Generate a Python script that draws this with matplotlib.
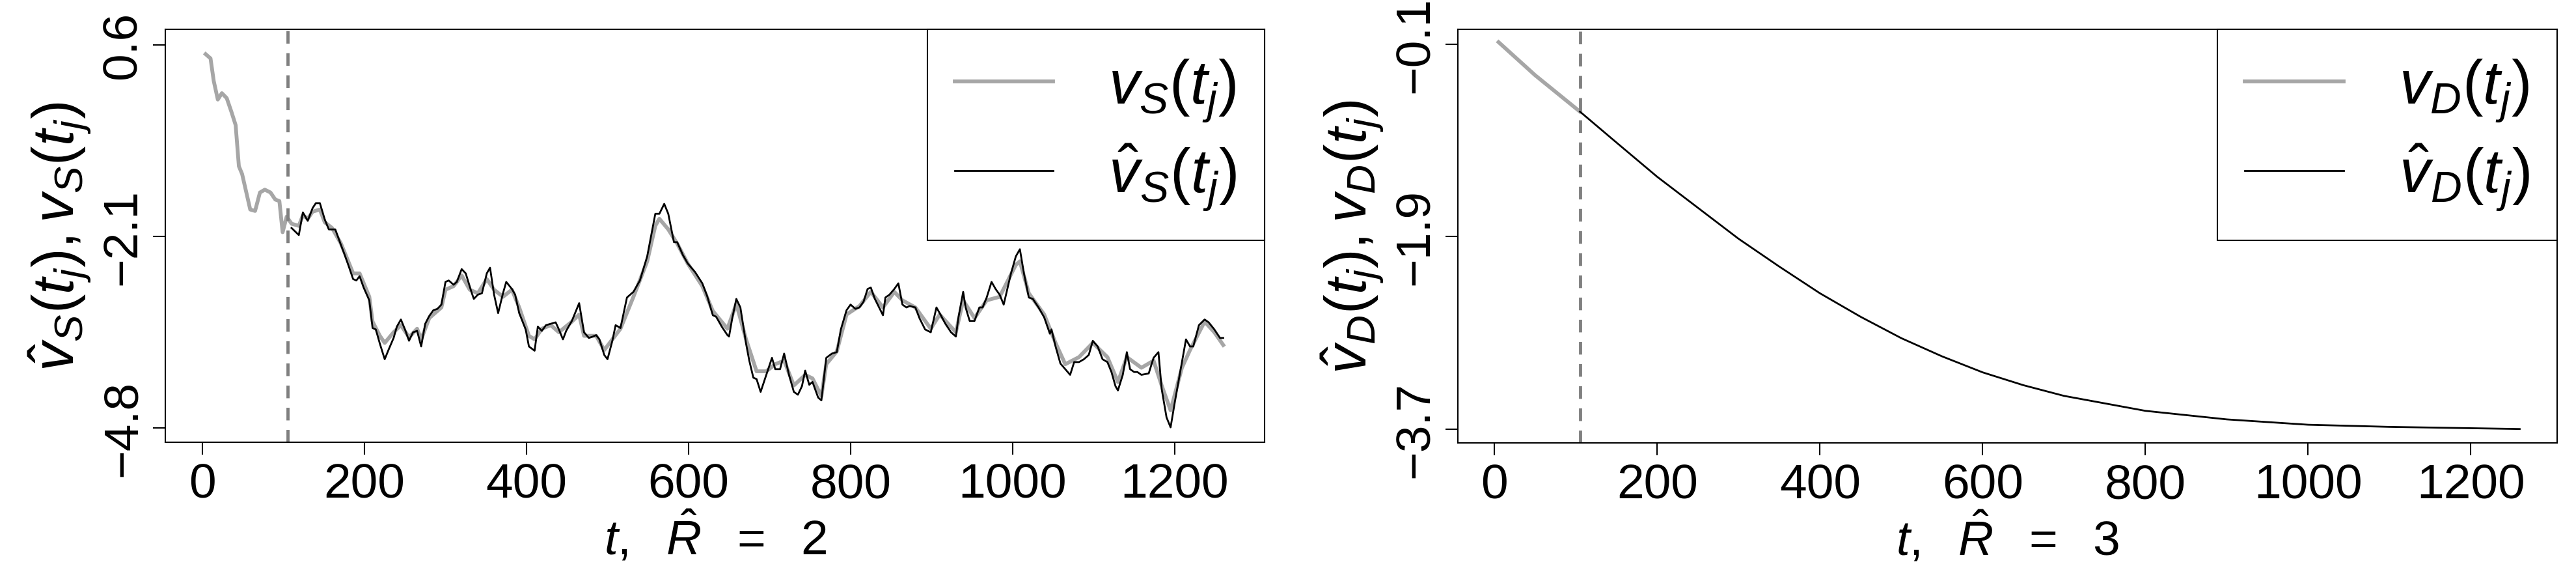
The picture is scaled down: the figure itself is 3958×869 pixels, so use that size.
import matplotlib
matplotlib.use("Agg")
import matplotlib.pyplot as plt

plt.rcParams['font.family'] = ['Liberation Sans', 'DejaVu Sans']
plt.rcParams['mathtext.fontset'] = 'custom'
plt.rcParams['mathtext.rm'] = 'Liberation Sans'
plt.rcParams['mathtext.it'] = 'Liberation Sans:italic'
plt.rcParams['mathtext.bf'] = 'Liberation Sans:bold'

# ---- left panel data ----
s_obs_t = [4, 10, 14, 19, 24, 30, 36, 41, 45, 49, 59, 65, 71, 77, 84, 90, 95, 99, 104, 110,
           119, 124, 130, 136, 145, 151, 160, 171, 180, 186, 194, 206, 210, 219, 225, 236, 245, 255,
           265, 270, 280, 295, 300, 310, 320, 330, 340, 351, 360, 371, 382, 391, 403, 410, 419, 430,
           440, 456, 465, 471, 486, 496, 506, 516, 532, 549, 559, 564, 575, 586, 599, 617, 630, 648,
           659, 671, 684, 696, 707, 718, 730, 744, 753, 764, 770, 783, 795, 811, 825, 840, 854, 864,
           880, 899, 910, 930, 939, 953, 968, 984, 1004, 1009, 1020, 1039, 1053, 1065, 1082, 1099,
           1117, 1130, 1141, 1159, 1174, 1184, 1195, 1209, 1219, 1237, 1249, 1260]
s_obs_v = [0.47, 0.41, 0.09, -0.17, -0.08, -0.15, -0.35, -0.53, -1.11, -1.22, -1.72, -1.74, -1.48,
           -1.44, -1.48, -1.58, -1.60, -2.04, -1.82, -1.92,
           -1.95, -1.80, -1.85, -1.75, -1.72, -1.90, -1.98, -2.20, -2.45, -2.62, -2.62, -2.95, -3.30,
           -3.50, -3.60, -3.45, -3.35, -3.52, -3.40, -3.55, -3.25, -3.10, -2.85, -2.80, -2.65, -2.85,
           -2.90, -2.70, -2.85, -2.95, -2.85, -3.10, -3.50, -3.55, -3.40, -3.35, -3.45, -3.30, -3.20,
           -3.50, -3.50, -3.70, -3.55, -3.40, -2.95, -2.45, -1.95, -1.85, -2.00, -2.20, -2.48, -2.80,
           -3.15, -3.40, -3.05, -3.55, -4.00, -4.00, -3.90, -3.85, -4.20, -4.05, -4.10, -4.35, -3.90,
           -3.72, -3.20, -3.08, -2.88, -3.10, -2.88, -3.00, -3.10, -3.40, -3.20, -3.45, -3.00, -3.25,
           -3.00, -2.95, -2.50, -2.45, -2.90, -3.20, -3.60, -3.90, -3.80, -3.60, -3.80, -4.15, -3.80,
           -3.95, -3.85, -4.20, -4.55, -3.95, -3.70, -3.30, -3.45, -3.63]
s_est_t = [110, 119, 124, 130, 136, 140, 145, 151, 156, 164, 171, 175, 180, 186, 190, 194, 199, 206,
           210, 214, 219, 225, 230, 236, 240, 245, 250, 255, 260, 265, 270, 275, 280, 285, 290, 295,
           300, 304, 310, 314, 320, 325, 332, 335, 340, 345, 351, 355, 360, 365, 371, 375, 382, 386,
           391, 399, 403, 410, 414, 419, 424, 430, 436, 440, 445, 449, 456, 465, 471, 477, 482, 486,
           490, 496, 500, 506, 510, 516, 524, 532, 540, 549, 559, 564, 570, 575, 582, 586, 593, 599,
           608, 617, 623, 630, 634, 641, 648, 650, 654, 659, 664, 671, 675, 680, 684, 689, 696, 703,
           707, 713, 718, 724, 730, 735, 740, 744, 749, 753, 760, 764, 770, 777, 783, 788, 795, 800,
           806, 811, 816, 821, 825, 830, 840, 843, 848, 854, 859, 864, 869, 873, 880, 885, 892, 899,
           906, 910, 917, 924, 930, 933, 939, 942, 947, 953, 959, 963, 968, 974, 979, 984, 989, 998,
           1004, 1009, 1014, 1020, 1025, 1032, 1039, 1046, 1048, 1053, 1059, 1065, 1071, 1076, 1082,
           1088, 1094, 1099, 1105, 1111, 1117, 1122, 1127, 1130, 1136, 1141, 1145, 1150, 1154, 1159,
           1168, 1174, 1180, 1184, 1190, 1195, 1200, 1209, 1214, 1219, 1223, 1230, 1237, 1242, 1249,
           1256, 1260]
s_est_v = [-1.98, -2.08, -1.76, -1.88, -1.70, -1.63, -1.63, -1.86, -2.00, -2.00, -2.22, -2.34, -2.50,
           -2.70, -2.72, -2.66, -2.82, -3.00, -3.39, -3.41, -3.61, -3.83, -3.69, -3.53, -3.37, -3.27,
           -3.41, -3.57, -3.45, -3.43, -3.65, -3.33, -3.22, -3.14, -3.12, -3.06, -2.74, -2.72, -2.78,
           -2.74, -2.56, -2.62, -2.88, -2.98, -2.92, -2.90, -2.62, -2.54, -2.92, -3.18, -2.90, -2.74,
           -2.84, -2.92, -3.18, -3.41, -3.65, -3.71, -3.37, -3.43, -3.35, -3.33, -3.31, -3.41, -3.55,
           -3.43, -3.29, -3.04, -3.45, -3.53, -3.51, -3.49, -3.55, -3.77, -3.83, -3.57, -3.35, -3.39,
           -2.96, -2.88, -2.72, -2.38, -1.78, -1.78, -1.64, -1.78, -2.18, -2.18, -2.36, -2.48, -2.60,
           -2.76, -2.94, -3.21, -3.23, -3.37, -3.49, -3.51, -3.25, -2.98, -3.10, -3.61, -3.85, -4.09,
           -4.11, -4.29, -4.05, -3.81, -3.97, -3.97, -3.75, -4.05, -4.29, -4.33, -4.21, -3.99, -4.19,
           -4.15, -4.37, -4.41, -3.81, -3.75, -3.73, -3.41, -3.14, -3.06, -3.12, -3.10, -3.02, -2.84,
           -2.82, -2.98, -3.21, -2.96, -2.92, -2.84, -2.76, -3.06, -3.10, -3.08, -3.10, -3.25, -3.41,
           -3.45, -3.10, -3.18, -3.33, -3.45, -3.51, -3.25, -2.88, -3.10, -3.29, -3.29, -3.10, -3.10,
           -2.96, -2.74, -2.84, -2.92, -3.06, -2.62, -2.38, -2.28, -2.62, -2.96, -2.98, -3.10, -3.24,
           -3.47, -3.41, -3.65, -3.89, -3.97, -4.05, -3.87, -3.87, -3.83, -3.77, -3.57, -3.65, -3.83,
           -3.87, -4.01, -4.21, -4.27, -4.05, -3.73, -3.97, -4.01, -4.01, -4.05, -4.03, -3.81, -3.73,
           -4.25, -4.65, -4.79, -4.45, -3.87, -3.55, -3.65, -3.65, -3.35, -3.27, -3.31, -3.41, -3.53,
           -3.53]

# ---- right panel data ----
d_obs_t = [5, 50, 105]
d_obs_v = [-0.08, -0.39, -0.73]
d_est_t = [105, 150, 200, 250, 300, 350, 400, 450, 500, 550, 600, 650, 700, 800, 900, 1000, 1100, 1260]
d_est_v = [-0.73, -1.02, -1.34, -1.63, -1.92, -2.18, -2.43, -2.65, -2.85, -3.02, -3.17, -3.29, -3.39,
           -3.53, -3.61, -3.66, -3.68, -3.70]

split_t = 105
x_ticks = [0, 200, 400, 600, 800, 1000, 1200]
s_yticks = [0.6, -2.1, -4.8]
d_yticks = [-0.1, -1.9, -3.7]

W, H = 3958, 870
fig = plt.figure(figsize=(W / 100, H / 100), dpi=100)
FS = 54
LFS = 68

def make_ax(left, right, top, bottom):
    return fig.add_axes([left / W, 1 - bottom / H, (right - left) / W, (bottom - top) / H])

panels = [
    dict(box=(254, 1943, 46, 680), xlim=(-45.8, 1311), ylim=(-5.0, 0.82),
         obs=(s_obs_t, s_obs_v), est=(s_est_t, s_est_v), yt=s_yticks, sub='S', R='2'),
    dict(box=(2240, 3929, 46, 681), xlim=(-45, 1306), ylim=(-3.83, 0.04),
         obs=(d_obs_t, d_obs_v), est=(d_est_t, d_est_v), yt=d_yticks, sub='D', R='3'),
]

for p in panels:
    ax = make_ax(*p['box'])
    ax.plot(*p['obs'], color='#a6a6a6', lw=4.2, solid_joinstyle='round',
            label=r'$v_%s(t_j)$' % p['sub'])
    ax.plot(*p['est'], color='black', lw=2.0, label=r'$\hat{v}_%s(t_j)$' % p['sub'])
    ax.axvline(split_t, color='#808080', lw=3.5, ls=(0, (4, 3)))
    ax.set_xlim(*p['xlim'])
    ax.set_ylim(*p['ylim'])
    ax.set_xticks(x_ticks)
    ax.set_yticks(p['yt'])
    ax.set_yticklabels([('%.1f' % v).replace('-', '\u2212') for v in p['yt']],
                       rotation=90, va='center')
    ax.tick_params(labelsize=FS, length=14, width=1.5, pad=8)
    for s in ax.spines.values():
        s.set_linewidth(1.5)
    ax.set_xlabel(r'$t,\ \ \hat{R}\ \ =\ \ %s$' % p['R'], fontsize=FS, labelpad=2)
    ax.set_ylabel(r'$\hat{v}_%s(t_j),v_%s(t_j)$' % (p['sub'], p['sub']), fontsize=64, labelpad=8)
    leg = ax.legend(loc='upper right', bbox_to_anchor=(1, 1), fontsize=LFS,
                    frameon=True, fancybox=False, edgecolor='black', borderaxespad=0,
                    handlelength=1.6, handletextpad=0.9, borderpad=0.45, labelspacing=0.3)
    leg.get_frame().set_linewidth(1.5)
    leg.get_frame().set_alpha(1)

fig.savefig('out.png', dpi=100)
